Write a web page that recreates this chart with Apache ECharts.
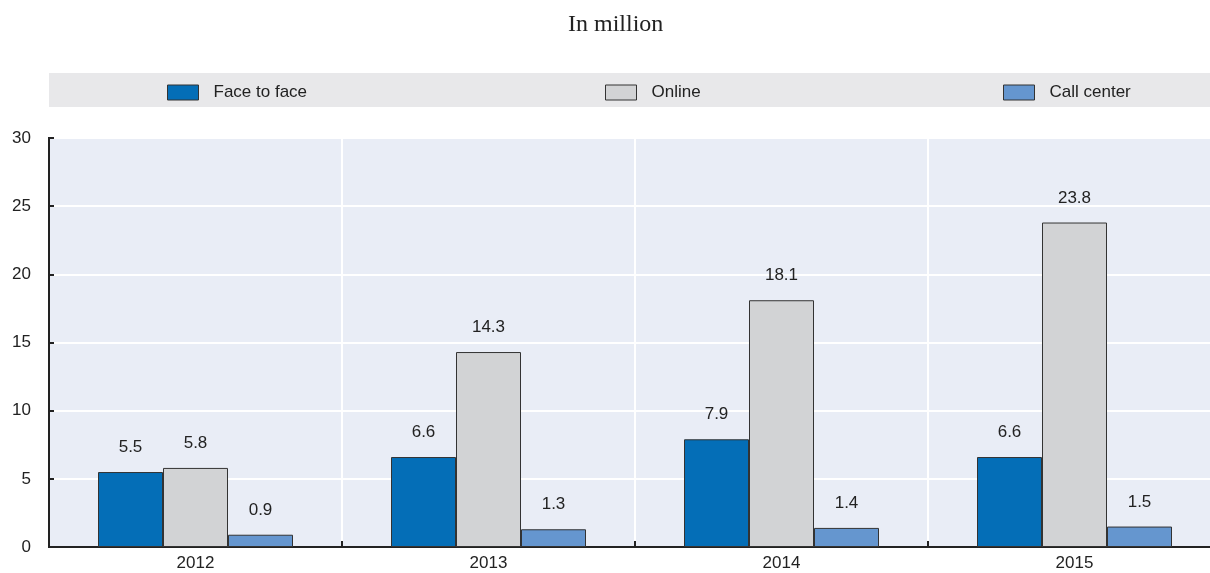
<!DOCTYPE html>
<html>
<head>
<meta charset="utf-8">
<script src="https://cdn.jsdelivr.net/npm/echarts@6/dist/echarts.min.js"></script>
<style>html,body{margin:0;padding:0;background:#fff;}#c{width:1210px;height:573px;}</style>
</head>
<body>
<div id="c"></div>
<script>
var categories = ['2012', '2013', '2014', '2015'];
var faceToFace = [5.5, 6.6, 7.9, 6.6];
var online = [5.8, 14.3, 18.1, 23.8];
var callCenter = [0.9, 1.3, 1.4, 1.5];
var seriesNames = ['Face to face', 'Online', 'Call center'];
var yTicks = [0, 5, 10, 15, 20, 25, 30];

var colors = ['#046EB7', '#D2D3D5', '#6596CF'];
var font = '"Liberation Sans", Arial, sans-serif';
var fs = 17;
var chart = echarts.init(document.getElementById('c'), null, {renderer: 'canvas'});

function mkSeries(name, data, color) {
  return {
    name: name, type: 'bar', data: data, barWidth: 65, barGap: '0%',
    itemStyle: {color: color, borderColor: '#333', borderWidth: 1},
    label: {show: true, position: 'top', distance: 16, color: '#222', fontSize: fs, fontFamily: font,
      formatter: function (p) { return p.value.toFixed(1); }},
    emphasis: {disabled: true}
  };
}
function mkLegend(name, left) {
  return {
    data: [name], left: left, top: 79, itemWidth: 31, itemHeight: 15, itemGap: 0,
    icon: 'rect',
    itemStyle: {borderColor: '#333', borderWidth: 1},
    textStyle: {fontSize: fs, color: '#222', fontFamily: font, padding: [0, 0, 0, 10]},
    selectedMode: false
  };
}

chart.setOption({
  animation: false,
  title: {text: 'In million', left: 563, top: 8,
    textStyle: {fontFamily: '"Liberation Serif", "Times New Roman", serif', fontWeight: 'normal', fontSize: 24, color: '#222'}},
  graphic: [{type: 'rect', z: -1, shape: {x: 49, y: 73, width: 1161, height: 34}, style: {fill: '#E8E8EA'}}],
  legend: [mkLegend(seriesNames[0], 162), mkLegend(seriesNames[1], 600), mkLegend(seriesNames[2], 998)],
  grid: {left: 49, top: 138, right: -11, bottom: 26, show: true, backgroundColor: '#E9EDF6',
    borderColor: '#222', borderWidth: 2, containLabel: false, outerBoundsMode: 'none'},
  xAxis: {
    type: 'category', data: categories,
    axisLine: {lineStyle: {color: '#222', width: 2}},
    axisTick: {show: true, inside: true, length: 6, lineStyle: {color: '#222', width: 2}},
    splitLine: {show: true, lineStyle: {color: '#fff', width: 2}},
    axisLabel: {fontSize: fs, color: '#222', fontFamily: font, margin: 8}
  },
  yAxis: {
    type: 'value', min: yTicks[0], max: yTicks[yTicks.length - 1], interval: 5,
    axisLine: {show: true, lineStyle: {color: '#222', width: 2}},
    axisTick: {show: true, inside: true, length: 5, lineStyle: {color: '#222', width: 2}},
    splitLine: {show: true, lineStyle: {color: '#fff', width: 2}},
    axisLabel: {fontSize: fs, color: '#222', fontFamily: font, margin: 18}
  },
  series: [
    mkSeries(seriesNames[0], faceToFace, colors[0]),
    mkSeries(seriesNames[1], online, colors[1]),
    mkSeries(seriesNames[2], callCenter, colors[2])
  ]
});
</script>
</body>
</html>
